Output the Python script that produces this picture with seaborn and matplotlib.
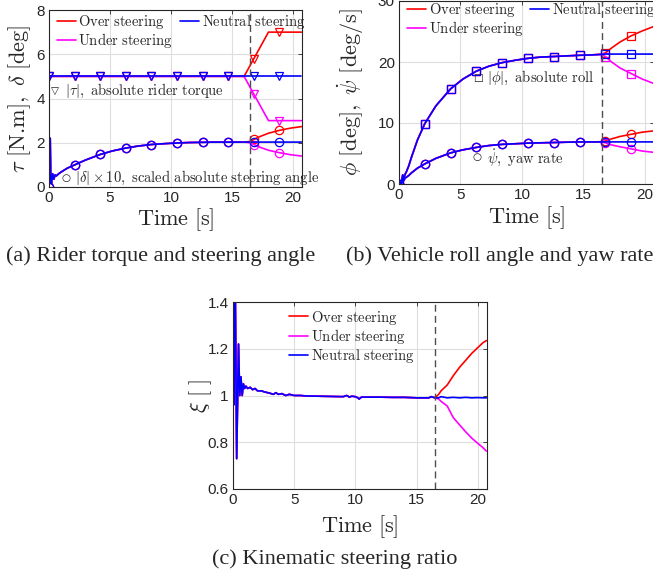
import matplotlib
matplotlib.use("Agg")
import matplotlib.pyplot as plt
from matplotlib.lines import Line2D
from matplotlib.ticker import FuncFormatter
import seaborn as sns

sns.set_theme(style="white")
plt.rcParams["font.family"] = ["Liberation Sans", "DejaVu Sans"]
plt.rcParams["mathtext.fontset"] = "cm"

# ---------------- data ----------------
series_names = ["Over steering", "Under steering", "Neutral steering"]

# panel (a)/(b) time base
t_ab_common = [0, 0.1, 0.15, 0.2, 0.3, 0.4, 0.5, 0.6, 0.8, 1.0, 1.5, 2.1, 3.0, 4.2, 5.2,
               6.3, 7.3, 8.4, 9.5, 10.5, 11.5, 12.6, 13.6, 14.7, 15.5, 16.0]
t_ab_tail = [16.5, 16.8, 17.3, 18.0, 18.9, 19.8, 20.7]
t_marks = [0, 2.1, 4.2, 6.3, 8.4, 10.5, 12.6, 14.7, 16.8, 18.9]

# rider torque |tau| [N.m]
torque_common = [5.0] * 26
torque_over_tail = [5.5, 5.8, 6.3, 7.0, 7.0, 7.0, 7.0]
torque_under_tail = [4.5, 4.2, 3.7, 3.0, 3.0, 3.0, 3.0]
torque_neutral_tail = [5.0, 5.0, 5.0, 5.0, 5.0, 5.0, 5.0]

# scaled steering angle |delta| x 10 [deg]
steer_common = [0, 2.2, 0.3, 0.15, 0.6, 0.35, 0.55, 0.5, 0.6, 0.68, 0.85, 1.0, 1.22, 1.47,
                1.63, 1.76, 1.85, 1.92, 1.96, 1.99, 2.01, 2.02, 2.03, 2.03, 2.03, 2.03]
steer_over_tail = [2.06, 2.15, 2.28, 2.43, 2.56, 2.66, 2.73]
steer_under_tail = [2.0, 1.92, 1.80, 1.66, 1.55, 1.46, 1.40]
steer_neutral_tail = [2.03, 2.03, 2.03, 2.03, 2.03, 2.03, 2.03]

# roll |phi| [deg]
roll_common = [0, 0.3, 0.1, 0.2, 1.5, 1.0, 1.6, 2.0, 3.0, 4.3, 7.2, 9.9, 12.8, 15.6, 17.2,
               18.5, 19.3, 19.9, 20.3, 20.6, 20.8, 20.9, 21.0, 21.1, 21.15, 21.2]
roll_over_tail = [21.3, 21.5, 22.3, 23.3, 24.3, 25.1, 25.8]
roll_under_tail = [21.2, 20.9, 20.0, 19.0, 18.1, 17.2, 16.5]
roll_neutral_tail = [21.25, 21.3, 21.3, 21.3, 21.3, 21.3, 21.3]

# yaw rate [deg/s]
yaw_common = [0, 0.1, 0.05, 0.1, 1.0, 0.6, 1.0, 1.1, 1.4, 1.8, 2.6, 3.3, 4.2, 5.1, 5.6,
              6.0, 6.3, 6.5, 6.6, 6.7, 6.75, 6.8, 6.85, 6.9, 6.9, 6.9]
yaw_over_tail = [6.95, 7.05, 7.4, 7.8, 8.15, 8.5, 8.7]
yaw_under_tail = [6.85, 6.75, 6.4, 6.1, 5.75, 5.4, 5.2]
yaw_neutral_tail = [6.9, 6.9, 6.9, 6.9, 6.9, 6.9, 6.9]

# panel (c) kinematic steering ratio
t_c_common = [0.0, 0.03, 0.06, 0.10, 0.18, 0.30, 0.45, 0.55, 0.65, 0.75, 0.85, 0.95, 1.05,
              1.2, 1.4, 1.6, 1.8, 2.0, 2.3, 2.6, 3.0, 3.3, 3.5, 3.7, 4.0, 4.3, 4.6, 5.0,
              5.5, 6.0, 7.0, 8.0, 9.0, 9.3, 9.5, 9.7, 10.0, 10.2, 10.3, 10.5, 11.0, 12.0,
              13.0, 14.0, 15.0, 16.0, 16.2, 16.5]
xi_common = [0.5, 1.5, 0.96, 1.3, 1.5, 0.73, 1.22, 1.0, 1.08, 1.0, 1.05, 1.03, 1.04, 1.03,
             1.035, 1.025, 1.03, 1.02, 1.02, 1.015, 1.01, 1.005, 1.012, 1.005, 1.008, 1.0,
             1.005, 1.0, 1.0, 0.998, 0.997, 0.996, 0.995, 1.0, 0.993, 0.997, 0.995, 0.99,
             0.985, 0.993, 0.993, 0.993, 0.992, 0.992, 0.99, 0.99, 0.995, 0.99]
t_c_tail = [16.8, 17.0, 17.5, 18.0, 18.5, 19.0, 19.5, 20.0, 20.4, 20.7]
xi_over_tail = [1.005, 1.02, 1.045, 1.085, 1.12, 1.15, 1.18, 1.205, 1.225, 1.235]
xi_under_tail = [0.985, 0.975, 0.955, 0.905, 0.875, 0.845, 0.818, 0.795, 0.778, 0.762]
xi_neutral_tail = [0.99, 0.995, 0.99, 0.992, 0.99, 0.992, 0.99, 0.991, 0.99, 0.99]

t_switch = 16.5

# ---------------- style ----------------
colors = {"Over steering": (1, 0, 0), "Under steering": (1, 0, 1),
          "Neutral steering": (0, 0, 1)}
W, H = 653, 581
fig = plt.figure(figsize=(W / 100, H / 100), dpi=100)


def px_axes(left, top, right, bottom):
    return fig.add_axes([left / W, (H - bottom) / H, (right - left) / W, (bottom - top) / H])


def style_axes(ax, yticks, ylim):
    ax.set_xlim(0, 20.75)
    ax.set_ylim(*ylim)
    ax.set_xticks([0, 5, 10, 15, 20])
    ax.set_yticks(yticks)
    ax.yaxis.set_major_formatter(FuncFormatter(lambda v, p: "%g" % v))
    ax.grid(True, color="0.87", linewidth=0.8)
    ax.set_axisbelow(True)
    for s in ax.spines.values():
        s.set_color("0.15")
        s.set_linewidth(0.8)
    ax.tick_params(direction="in", length=3, width=0.6, top=True, right=True,
                   labelsize=11, colors="0.15", pad=3)
    ax.axvline(t_switch, color="0.3", linestyle=(0, (5, 3)), linewidth=1.0, zorder=5)
    ax.set_xlabel(r"$\mathrm{Time\ [s]}$", fontsize=16)


def draw(ax, t, y, name, marker=None, marks=None):
    kw = dict(color=colors[name], linewidth=1.2, estimator=None, sort=False, ax=ax)
    if marker is not None:
        idx = [t.index(v) for v in marks]
        kw.update(marker=marker, markevery=idx, markersize=6,
                  markerfacecolor="none", markeredgecolor=colors[name],
                  markeredgewidth=0.9)
    sns.lineplot(x=t, y=y, **kw)


def legend(ax, ncol, loc_xy, rowgap=0.0):
    handles = [Line2D([], [], color=colors[n], linewidth=1.2) for n in series_names]
    labels = [r"$\mathrm{%s}$" % n.replace(" ", r"\ ") for n in series_names]
    ax.legend(handles, labels, ncol=ncol, loc="upper left", bbox_to_anchor=loc_xy,
              frameon=False, fontsize=10.5, handlelength=1.3, handletextpad=0.2,
              columnspacing=0.45, borderaxespad=0, borderpad=0, labelspacing=rowgap)


def note(ax, x, y, sym, txt, size=7.5):
    ax.text(x, y, sym, family="DejaVu Sans", fontsize=size, va="center", ha="left",
            color="0.1", zorder=6)
    ax.annotate(txt, xy=(x, y), xytext=(10, 0), textcoords="offset points",
                fontsize=10.5, va="center", ha="left", zorder=6)


t_ab = t_ab_common + t_ab_tail
tails_a = {
    "Over steering": (torque_over_tail, steer_over_tail, roll_over_tail, yaw_over_tail, xi_over_tail),
    "Under steering": (torque_under_tail, steer_under_tail, roll_under_tail, yaw_under_tail, xi_under_tail),
    "Neutral steering": (torque_neutral_tail, steer_neutral_tail, roll_neutral_tail, yaw_neutral_tail, xi_neutral_tail),
}

# ---- panel (a)
ax_a = px_axes(49, 10, 302, 187)
for n in series_names:
    tq, st, _, _, _ = tails_a[n]
    draw(ax_a, t_ab, torque_common + tq, n, "v", t_marks)
    draw(ax_a, t_ab, steer_common + st, n, "o", t_marks)
style_axes(ax_a, [0, 2, 4, 6, 8], (0, 8))
ax_a.set_ylabel(r"$\tau\ \mathrm{[N.\!m]},\ \delta\ \mathrm{[deg]}$", fontsize=16)
ax_a.yaxis.set_label_coords(-0.065, 0.5)
ax_a.xaxis.set_label_coords(0.5, -0.11)
legend(ax_a, 2, (0.03, 0.985))
note(ax_a, 0.15, 4.35, "\u25bd", r"$|\tau|,\mathrm{\ absolute\ rider\ torque}$")
note(ax_a, 1.0, 0.42, "\u25cb", r"$|\delta|\times10,\mathrm{\ scaled\ absolute\ steering\ angle}$")

# ---- panel (b)
ax_b = px_axes(399, 1, 654, 184)
for n in series_names:
    _, _, rl, yw, _ = tails_a[n]
    draw(ax_b, t_ab, roll_common + rl, n, "s", t_marks)
    draw(ax_b, t_ab, yaw_common + yw, n, "o", t_marks)
style_axes(ax_b, [0, 10, 20, 30], (0, 30))
ax_b.set_ylabel(r"$\phi\ \mathrm{[deg]},\ \dot{\psi}\ \mathrm{[deg/s]}$", fontsize=16)
ax_b.yaxis.set_label_coords(-0.13, 0.5)
ax_b.xaxis.set_label_coords(0.5, -0.11)
legend(ax_b, 2, (0.03, 1.0))
note(ax_b, 6.0, 17.4, "\u25a1", r"$|\phi|,\mathrm{\ absolute\ roll}$")
note(ax_b, 6.0, 4.4, "\u25cb", r"$\dot{\psi},\mathrm{\ yaw\ rate}$")

# ---- panel (c)
ax_c = px_axes(233, 302, 487, 489)
t_c = t_c_common + t_c_tail
for n in series_names:
    xi_tail = tails_a[n][4]
    draw(ax_c, t_c, xi_common + xi_tail, n)
style_axes(ax_c, [0.6, 0.8, 1.0, 1.2, 1.4], (0.6, 1.4))
ax_c.set_ylabel(r"$\xi\ [\ ]$", fontsize=16)
ax_c.yaxis.set_label_coords(-0.075, 0.5)
ax_c.xaxis.set_label_coords(0.5, -0.13)
legend(ax_c, 1, (0.22, 0.965), rowgap=0.05)

# ---- captions
cap_font = dict(family="Liberation Serif", fontsize=16, va="center")
fig.text(6 / W, 1 - 256 / H, "(a) Rider torque and steering angle", ha="left", **cap_font)
fig.text(346 / W, 1 - 256 / H, "(b) Vehicle roll angle and yaw rate", ha="left", **cap_font)
fig.text(212 / W, 1 - 559 / H, "(c) Kinematic steering ratio", ha="left", **cap_font)

fig.savefig("out.png", dpi=100)
